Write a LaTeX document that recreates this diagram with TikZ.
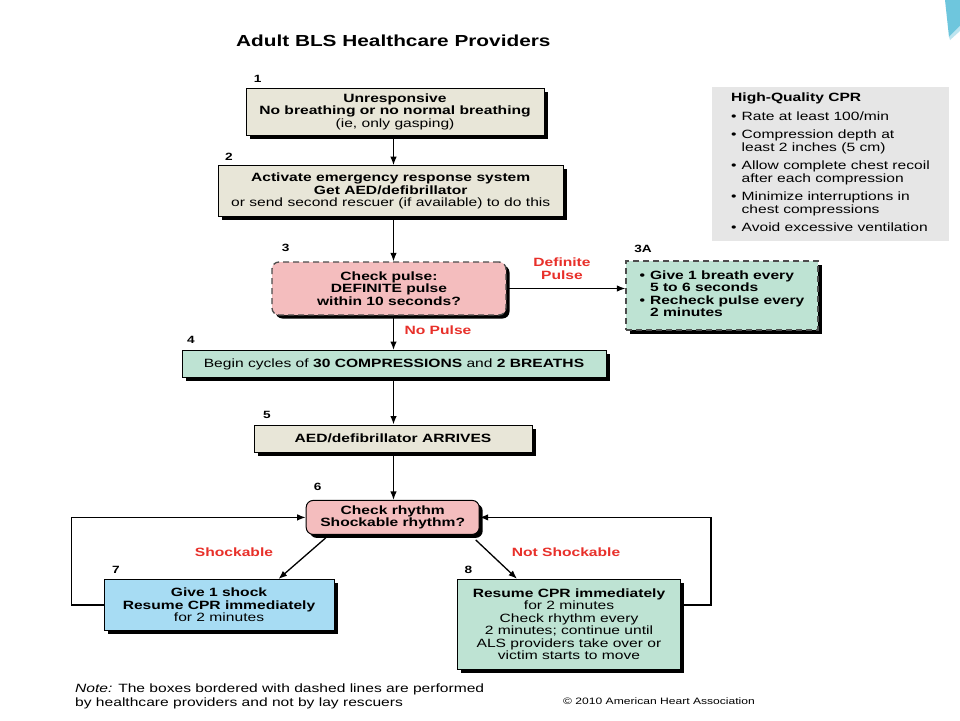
\documentclass[tikz,border=0pt]{standalone}
\usepackage{fontspec}
\setmainfont{Liberation Sans}[FakeStretch=1.3]
\usetikzlibrary{arrows.meta,shadows,calc}
\tikzset{>={Latex[width=6.5pt,length=8.5pt]}}
\definecolor{beige}{HTML}{E8E6D8}
\definecolor{pinkbox}{HTML}{F4BDBE}
\definecolor{greenbox}{HTML}{BEE3D3}
\definecolor{bluebox}{HTML}{A7DCF3}
\definecolor{greybox}{HTML}{E6E6E6}
\definecolor{redlabel}{HTML}{E8302A}
\definecolor{decoblue}{HTML}{6EC6DD}
\newcommand{\boxfont}{\fontsize{12}{12.5}\selectfont}
\newcommand{\REDTXT}[1]{\textcolor{redlabel}{#1}}

\begin{document}
\begin{tikzpicture}[x=1pt, y=-1pt,
  every node/.style={inner sep=0pt},
  stepbox/.style={draw=black, line width=1pt, align=center, font=\boxfont,
    drop shadow={shadow xshift=3.5pt, shadow yshift=-3.5pt, opacity=1, fill=black}},
  dashbox/.style={stepbox, draw=black!70, line width=1.3pt, dash pattern=on 6pt off 4pt},
  numlbl/.style={font=\bfseries\fontsize{10.5}{10.5}\selectfont},
  redlbl/.style={font=\bfseries\boxfont, align=center},
  flow/.style={->, line width=1.3pt}]

  \useasboundingbox[fill=white] (0,0) rectangle (960,720);

  %% top right corner
  \fill[decoblue] (945,0) -- (960,0) -- (960,26) -- (949,37) -- cycle;
  \fill[decoblue!45] (949,37) -- (960,26) -- (960,31) -- (950,40) -- cycle;

  \coordinate (trunk) at (393.5,0);

  \node[font=\bfseries\fontsize{16}{16}\selectfont] (title) at (393.3,41) {Adult BLS Healthcare Providers};

  %% boxes
  \node[stepbox, fill=beige, minimum width=298, minimum height=47] (unresp) at (395,111.7)
  {\textbf{Unresponsive}\\\textbf{No breathing or no normal breathing}\\(ie, only gasping)};
  \node[stepbox, fill=beige, minimum width=345, minimum height=51] (activate) at (390.7,191.2)
  {\textbf{Activate emergency response system}\\\textbf{Get AED/defibrillator}\\or send second rescuer (if available) to do this};
  \node[dashbox, rounded corners=7pt, fill=pinkbox, minimum width=234, minimum height=53] (pulse) at (389,288.5)
  {\textbf{Check pulse:}\\\textbf{DEFINITE pulse}\\\textbf{within 10 seconds?}};
  \node[dashbox, fill=greenbox, minimum width=192, minimum height=69] (breath) at (722,295.5)
  {\bfseries\begin{tabular}{@{}l@{\hspace{5pt}}l@{}}
    \textbullet & Give 1 breath every\\ & 5 to 6 seconds\\
    \textbullet & Recheck pulse every\\ & 2 minutes
  \end{tabular}};
  \node[fill=greybox, minimum width=237, minimum height=154, font=\boxfont] (cpr) at (830.5,164.3)
  {\begin{tabular}{@{}l@{\hspace{5pt}}l@{}}
    \multicolumn{2}{@{}l}{\bfseries High-Quality CPR}\\[6pt]
    \textbullet & Rate at least 100/min\\[6pt]
    \textbullet & Compression depth at\\ & least 2 inches (5 cm)\\[6pt]
    \textbullet & Allow complete chest recoil\\ & after each compression\\[6pt]
    \textbullet & Minimize interruptions in\\ & chest compressions\\[6pt]
    \textbullet & Avoid excessive ventilation
  \end{tabular}};
  \node[stepbox, fill=greenbox, minimum width=424, minimum height=27] (cycles) at (394,364)
  {Begin cycles of \textbf{30 COMPRESSIONS} and \textbf{2 BREATHS}};
  \node[stepbox, fill=beige, minimum width=278, minimum height=27] (aed) at (393,438.5)
  {\textbf{AED/defibrillator ARRIVES}};
  \node[stepbox, rounded corners=7pt, fill=pinkbox, minimum width=173, minimum height=34] (rhythm) at (392.7,517.4)
  {\textbf{Check rhythm}\\\textbf{Shockable rhythm?}};
  \node[stepbox, fill=bluebox, minimum width=230, minimum height=51] (shock) at (219,605)
  {\textbf{Give 1 shock}\\\textbf{Resume CPR immediately}\\for 2 minutes};
  \node[stepbox, fill=greenbox, minimum width=223, minimum height=90] (resume) at (569,624.3)
  {\textbf{Resume CPR immediately}\\for 2 minutes\\Check rhythm every\\2 minutes; continue until\\ALS providers take over or\\victim starts to move};

  %% step numbers
  \node[numlbl] (n1) at (257.7,79.3) {1};
  \node[numlbl] (n2) at (229,156.7) {2};
  \node[numlbl] (n3) at (285.7,248) {3};
  \node[numlbl] (n3a) at (643,249) {3A};
  \node[numlbl] (n4) at (191,340) {4};
  \node[numlbl] (n5) at (267,415) {5};
  \node[numlbl] (n6) at (317.7,487.3) {6};
  \node[numlbl] (n7) at (116,570) {7};
  \node[numlbl] (n8) at (468.3,570) {8};

  %% connectors
  \draw[flow] (unresp.south -| trunk) -- (activate.north -| trunk);
  \draw[flow] (activate.south -| trunk) -- (pulse.north -| trunk);
  \draw[flow] (pulse.east) -- (pulse.east -| breath.west);
  \draw[flow] (pulse.south -| trunk) -- (cycles.north -| trunk);
  \draw[flow] (cycles.south -| trunk) -- (aed.north -| trunk);
  \draw[flow] (aed.south -| trunk) -- (rhythm.north -| trunk);
  \draw[flow] ($(rhythm.south west)+(20,3)$) -- ($(shock.north east)+(-56,0)$);
  \draw[flow] ($(rhythm.south east)+(-4,5)$) -- ($(resume.north west)+(60,0)$);
  \draw[flow] (shock.west) -- ++(-32,0) |- (rhythm.west);
  \draw[flow] (resume.east |- shock.west) -- ++(30,0) |- (rhythm.east);

  %% red labels
  \node[redlbl] (lbldef) at (562,268.7) {\REDTXT{Definite}\\\REDTXT{Pulse}};
  \node[redlbl] (lblno) at (438,330) {\REDTXT{No Pulse}};
  \node[redlbl] (lblshock) at (234,552.7) {\REDTXT{Shockable}};
  \node[redlbl] (lblnot) at (566,552.7) {\REDTXT{Not Shockable}};

  %% footer
  \node[anchor=north west, align=left, font=\fontsize{12}{13.5}\selectfont] (note) at (75,684)
  {\textit{Note:} The boxes bordered with dashed lines are performed\\by healthcare providers and not by lay rescuers};
  \node[anchor=west, font=\fontsize{9.3}{9.3}\selectfont] (copy) at (563,701) {\textcopyright\ 2010 American Heart Association};

\end{tikzpicture}
\end{document}
